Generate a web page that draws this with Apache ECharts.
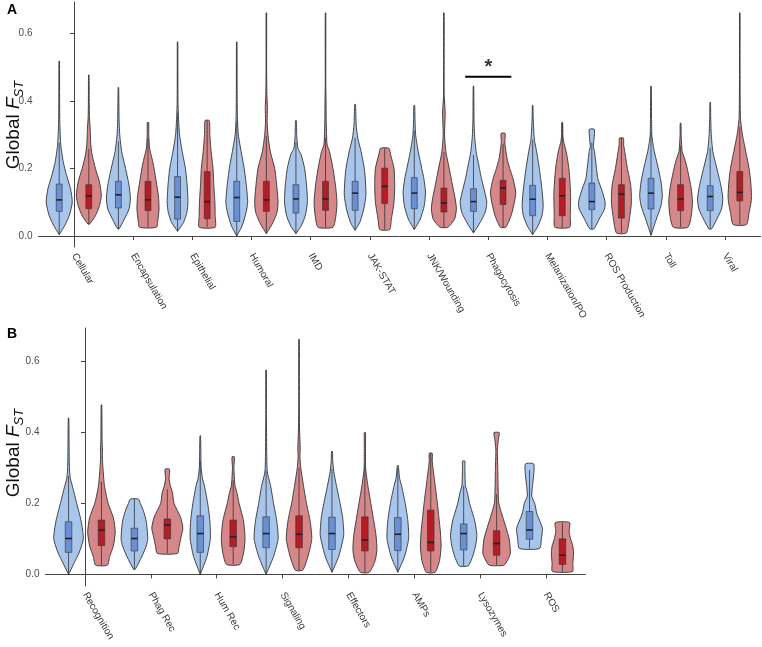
<!DOCTYPE html>
<html><head><meta charset="utf-8">
<script src="https://cdn.jsdelivr.net/npm/echarts@6/dist/echarts.min.js"></script>
<style>html,body{margin:0;padding:0;background:#fff}#c{width:762px;height:647px}</style>
</head><body><div id="c"></div>
<script>
// ---------- Panel A data ----------
const categoriesA = ['Cellular','Encapsulation','Epithelial','Humoral','IMD','JAK-STAT','JNK/Wounding','Phagocytosis','Melanization/PO','ROS Production','Toll','Viral'];
// box stats: [lower whisker, Q1, median, Q3, upper whisker]
const boxA_blue = [
  [0.004,0.073,0.107,0.154,0.276],[0.021,0.083,0.122,0.162,0.280],[0.014,0.050,0.115,0.176,0.365],
  [0.000,0.043,0.114,0.162,0.340],[0.007,0.068,0.110,0.152,0.278],[0.017,0.076,0.127,0.162,0.291],
  [0.019,0.081,0.127,0.173,0.311],[0.009,0.073,0.102,0.140,0.240],[0.004,0.060,0.109,0.150,0.285],
  [0.021,0.078,0.102,0.157,0.276],[0.002,0.080,0.127,0.171,0.307],[0.021,0.075,0.117,0.149,0.260]];
const boxA_red = [
  [0.035,0.081,0.119,0.152,0.258],[0.026,0.075,0.107,0.162,0.290],[0.026,0.051,0.102,0.191,0.342],
  [0.007,0.073,0.107,0.162,0.296],[0.026,0.076,0.110,0.162,0.291],[0.019,0.096,0.147,0.201,0.260],
  [0.026,0.071,0.098,0.142,0.249],[0.026,0.093,0.142,0.165,0.273],[0.026,0.060,0.119,0.171,0.336],
  [0.009,0.053,0.124,0.152,0.290],[0.026,0.075,0.110,0.152,0.268],[0.034,0.104,0.129,0.191,0.322]];
// violin profiles: [value, relative half-width]
const violinA_blue = [
  [[.004,0],[.03,.4],[.06,.75],[.1,.98],[.14,.85],[.18,.55],[.22,.3],[.27,.12],[.33,.05],[.4,.03],[.518,.02]],
  [[.021,.05],[.05,.45],[.08,.8],[.11,.9],[.15,.8],[.2,.54],[.25,.25],[.3,.1],[.35,.05],[.44,.02]],
  [[.014,0],[.04,.45],[.07,.7],[.1,.78],[.15,.72],[.2,.59],[.25,.35],[.3,.15],[.35,.07],[.4,.03],[.575,.02]],
  [[0,0],[.03,.4],[.07,.7],[.1,.82],[.15,.72],[.2,.56],[.25,.33],[.3,.12],[.35,.05],[.42,.03],[.575,.02]],
  [[.007,0],[.03,.4],[.06,.7],[.1,.86],[.15,.8],[.2,.65],[.24,.4],[.26,.15],[.3,.06],[.342,.03]],
  [[.017,0],[.04,.35],[.08,.65],[.12,.81],[.16,.78],[.2,.69],[.25,.45],[.29,.2],[.33,.08],[.39,.03]],
  [[.019,0],[.05,.45],[.09,.75],[.13,.84],[.17,.72],[.2,.56],[.25,.3],[.3,.1],[.35,.05],[.387,.03]],
  [[.009,0],[.04,.5],[.07,.88],[.1,1.0],[.13,.85],[.17,.6],[.2,.45],[.25,.2],[.3,.08],[.35,.04],[.444,.02]],
  [[.004,0],[.03,.4],[.06,.7],[.09,.79],[.13,.72],[.17,.6],[.2,.5],[.25,.3],[.28,.15],[.3,.1],[.35,.04],[.387,.02]],
  [[.021,.15],[.05,.55],[.08,.95],[.1,1.0],[.13,.8],[.17,.45],[.2,.35],[.25,.2],[.265,.12],[.29,.17],[.316,.19]],
  [[.002,0],[.05,.4],[.09,.75],[.12,.85],[.16,.75],[.2,.55],[.25,.25],[.28,.12],[.3,.06],[.35,.04],[.444,.02]],
  [[.021,.1],[.05,.5],[.08,.85],[.11,.95],[.15,.8],[.2,.5],[.25,.2],[.3,.08],[.35,.04],[.396,.02]]];
const violinA_red = [
  [[.035,.05],[.06,.5],[.09,.8],[.12,.94],[.16,.8],[.2,.5],[.24,.25],[.27,.15],[.3,.12],[.32,.1],[.35,.05],[.4,.03],[.477,.02]],
  [[.026,.63],[.05,.75],[.08,.83],[.12,.78],[.16,.62],[.2,.46],[.23,.3],[.26,.12],[.3,.06],[.336,.05]],
  [[.026,.6],[.06,.6],[.1,.58],[.15,.5],[.2,.44],[.25,.3],[.3,.2],[.342,.16]],
  [[.007,0],[.04,.5],[.07,.8],[.1,.88],[.15,.78],[.2,.63],[.25,.3],[.3,.12],[.34,.06],[.38,.08],[.42,.04],[.5,.02],[.661,.02]],
  [[.026,.56],[.06,.78],[.1,.86],[.15,.75],[.2,.56],[.25,.3],[.27,.12],[.3,.08],[.35,.05],[.4,.04],[.45,.02],[.661,.02]],
  [[.019,.37],[.05,.5],[.1,.7],[.15,.75],[.2,.7],[.24,.45],[.26,.31]],
  [[.026,.3],[.05,.8],[.08,.94],[.11,.85],[.15,.65],[.2,.4],[.25,.15],[.3,.05],[.34,.08],[.36,.1],[.38,.08],[.42,.02],[.661,.02]],
  [[.026,.2],[.06,.6],[.1,.85],[.13,.95],[.17,.75],[.2,.5],[.23,.3],[.26,.18],[.28,.13],[.304,.15]],
  [[.026,.56],[.06,.6],[.09,.62],[.12,.63],[.16,.58],[.2,.5],[.25,.3],[.28,.1],[.3,.05],[.336,.03]],
  [[.009,.37],[.05,.6],[.1,.75],[.15,.7],[.2,.45],[.25,.25],[.27,.17],[.29,.15]],
  [[.026,.55],[.06,.8],[.1,.89],[.14,.8],[.2,.5],[.23,.3],[.25,.12],[.3,.04],[.334,.03]],
  [[.034,.5],[.07,.7],[.1,.85],[.12,.88],[.16,.82],[.2,.7],[.25,.45],[.3,.2],[.33,.1],[.35,.05],[.4,.03],[.5,.02],[.661,.02]]];

// ---------- Panel B data ----------
const categoriesB = ['Recognition','Phag Rec','Hum Rec','Signaling','Effectors','AMPs','Lysozymes','ROS'];
const boxB_blue = [
  [0.000,0.062,0.101,0.148,0.277],[0.014,0.066,0.101,0.130,0.212],[0.000,0.062,0.115,0.165,0.319],
  [0.000,0.075,0.115,0.162,0.292],[0.006,0.070,0.115,0.161,0.297],[0.006,0.067,0.113,0.160,0.300],
  [0.024,0.069,0.115,0.142,0.250],[0.073,0.099,0.125,0.177,0.294]];
const boxB_red = [
  [0.026,0.081,0.125,0.153,0.261],[0.059,0.100,0.139,0.156,0.240],[0.028,0.078,0.106,0.153,0.265],
  [0.012,0.075,0.113,0.165,0.300],[0.006,0.066,0.097,0.162,0.306],[0.006,0.066,0.090,0.181,0.341],
  [0.026,0.054,0.087,0.123,0.226],[0.008,0.028,0.054,0.100,0.146]];
const violinB_blue = [
  [[0,0],[.03,.35],[.06,.7],[.1,1.0],[.15,.85],[.2,.55],[.25,.25],[.27,.12],[.3,.06],[.35,.04],[.44,.02]],
  [[.014,.05],[.05,.5],[.08,.8],[.1,.9],[.15,.8],[.18,.6],[.2,.4],[.212,.27]],
  [[0,0],[.05,.45],[.1,.68],[.15,.65],[.2,.5],[.25,.28],[.27,.15],[.3,.06],[.35,.04],[.39,.02]],
  [[0,0],[.05,.5],[.1,.81],[.15,.72],[.2,.5],[.25,.3],[.28,.12],[.3,.06],[.35,.04],[.45,.02],[.575,.02]],
  [[.006,0],[.05,.45],[.11,.79],[.16,.72],[.2,.55],[.25,.3],[.29,.12],[.32,.05],[.346,.03]],
  [[.006,0],[.05,.45],[.1,.73],[.15,.68],[.2,.5],[.25,.25],[.27,.12],[.3,.05],[.306,.04]],
  [[.024,.3],[.05,.6],[.08,.8],[.11,.89],[.15,.75],[.2,.4],[.23,.25],[.25,.12],[.3,.08],[.319,.08]],
  [[.073,.68],[.1,.8],[.13,.87],[.17,.5],[.2,.35],[.22,.15],[.25,.2],[.28,.28],[.311,.28]]];
const violinB_red = [
  [[.026,.4],[.05,.55],[.08,.8],[.12,.93],[.16,.8],[.2,.45],[.25,.2],[.3,.1],[.33,.06],[.35,.07],[.38,.04],[.477,.02]],
  [[.059,.68],[.08,.8],[.11,.95],[.13,1.05],[.16,.9],[.2,.45],[.23,.35],[.25,.2],[.27,.12],[.296,.15]],
  [[.028,.45],[.06,.7],[.1,.8],[.15,.7],[.2,.4],[.23,.25],[.25,.12],[.3,.05],[.331,.08]],
  [[.012,.25],[.05,.6],[.1,.86],[.15,.75],[.2,.5],[.25,.3],[.3,.12],[.33,.06],[.35,.08],[.38,.06],[.42,.03],[.5,.02],[.661,.02]],
  [[.006,.3],[.04,.7],[.07,.81],[.11,.75],[.15,.6],[.2,.4],[.25,.2],[.28,.1],[.3,.05],[.35,.04],[.399,.04]],
  [[.006,.3],[.04,.6],[.08,.7],[.12,.65],[.16,.55],[.2,.45],[.25,.3],[.3,.15],[.32,.1],[.341,.1]],
  [[.026,.5],[.045,.8],[.06,.93],[.1,.85],[.15,.5],[.2,.15],[.25,.1],[.3,.08],[.35,.05],[.38,.12],[.399,.18]],
  [[.008,.68],[.03,.7],[.06,.75],[.08,.7],[.1,.55],[.12,.45],[.146,.48]]];

const yTickValues = [0, 0.2, 0.4, 0.6];
// significance annotation in panel A
const sigCategory = 'Phagocytosis';
const sigBarValue = 0.472;
const sigStarValue = 0.50;
const sigLabel = '*';

// ---------- styling ----------
const FONT = 'Liberation Sans, Arial, Helvetica, sans-serif';
const COLORS = {
  blue: {fill:'#a8c5ec', box:'#6a8fd2'},
  red:  {fill:'#d5878a', box:'#b51c26'}
};
const OUTLINE = '#333333';

function violinSeries(idx, cats, boxBlue, boxRed, profBlue, profRed) {
  const data = [];
  cats.forEach((c, i) => { data.push([i - 0.25, 0, 0, i]); data.push([i + 0.25, 0, 1, i]); });
  return {
    type: 'custom', xAxisIndex: idx, yAxisIndex: idx, clip: false, silent: true,
    encode: {x: 0, y: 1},
    data,
    renderItem(params, api) {
      const x = api.value(0), g = api.value(2), i = api.value(3);
      const prof = (g === 0 ? profBlue : profRed)[i];
      const b = (g === 0 ? boxBlue : boxRed)[i];
      const col = g === 0 ? COLORS.blue : COLORS.red;
      const unit = api.size([1, 0])[0];
      const hw = 0.225 * unit;
      const bw = 0.05 * unit;
      const cx = api.coord([x, 0])[0];
      const left = [], right = [];
      prof.forEach(([v, w]) => {
        const y = api.coord([x, v])[1];
        left.push([cx - w * hw, y]);
        right.push([cx + w * hw, y]);
      });
      const pts = left.concat(right.reverse());
      const yv = v => api.coord([x, v])[1];
      return {
        type: 'group',
        children: [
          {type: 'polygon', shape: {points: pts, smooth: 0.2},
           style: {fill: col.fill, stroke: OUTLINE, lineWidth: 0.9}},
          {type: 'line', shape: {x1: cx, y1: yv(b[0]), x2: cx, y2: yv(b[1])},
           style: {stroke: OUTLINE, lineWidth: 0.8}},
          {type: 'line', shape: {x1: cx, y1: yv(b[3]), x2: cx, y2: yv(b[4])},
           style: {stroke: OUTLINE, lineWidth: 0.8}},
          {type: 'rect', shape: {x: cx - bw, y: yv(b[3]), width: 2 * bw, height: yv(b[1]) - yv(b[3])},
           style: {fill: col.box, stroke: OUTLINE, lineWidth: 0.6}},
          {type: 'line', shape: {x1: cx - bw, y1: yv(b[2]), x2: cx + bw, y2: yv(b[2])},
           style: {stroke: '#222', lineWidth: 1.6}}
        ]
      };
    }
  };
}

function xAxisCfg(idx, cats) {
  const ticks = cats.map((c, i) => i);
  return {
    type: 'value', gridIndex: idx, min: -0.6, max: cats.length - 0.4,
    splitLine: {show: false},
    axisLine: {show: true, lineStyle: {color: '#444', width: 1}},
    axisTick: {show: true, customValues: ticks, length: 4, lineStyle: {color: '#444'}},
    axisLabel: {show: true, customValues: ticks, rotate: -60, margin: 7,
      formatter: v => cats[Math.round(v)], color: '#3a3a3a', fontSize: 10, fontFamily: FONT}
  };
}
function yAxisCfg(idx) {
  return {
    type: 'value', gridIndex: idx, min: -0.0326, max: 0.6933,
    splitLine: {show: false},
    axisLine: {show: true, lineStyle: {color: '#444', width: 1}},
    axisTick: {show: true, customValues: yTickValues, length: 4, lineStyle: {color: '#444'}},
    axisLabel: {show: true, customValues: yTickValues, formatter: v => v.toFixed(1),
      color: '#4d4d4d', fontSize: 10, fontFamily: FONT, margin: 6}
  };
}

const sigIdx = categoriesA.indexOf(sigCategory);

const titleRich = {
  n: {fontSize: 19, fontFamily: FONT, fill: '#111', lineHeight: 24, verticalAlign: 'middle'},
  i: {fontSize: 19, fontFamily: FONT, fill: '#111', fontStyle: 'italic', lineHeight: 24, verticalAlign: 'middle'},
  s: {fontSize: 13, fontFamily: FONT, fill: '#111', fontStyle: 'italic', lineHeight: 13, verticalAlign: 'bottom'}
};

const chart = echarts.init(document.getElementById('c'), null, {renderer: 'canvas'});
chart.setOption({
  animation: false,
  backgroundColor: '#fff',
  grid: [
    {left: 38.5, top: 2, width: 722, height: 245},
    {left: 45.5, top: 328, width: 540, height: 258}
  ],
  xAxis: [xAxisCfg(0, categoriesA), xAxisCfg(1, categoriesB)],
  yAxis: [yAxisCfg(0), yAxisCfg(1)],
  graphic: [
    {type: 'text', x: 7, y: 3, style: {text: 'A', font: 'bold 14px ' + FONT, fill: '#000'}},
    {type: 'text', x: 7, y: 327, style: {text: 'B', font: 'bold 14px ' + FONT, fill: '#000'}},
    {type: 'text', x: 14, y: 125, rotation: Math.PI / 2,
     style: {text: '{n|Global }{i|F}{s|ST}', rich: titleRich, align: 'center', verticalAlign: 'middle'}},
    {type: 'text', x: 14, y: 453, rotation: Math.PI / 2,
     style: {text: '{n|Global }{i|F}{s|ST}', rich: titleRich, align: 'center', verticalAlign: 'middle'}}
  ],
  series: [
    violinSeries(0, categoriesA, boxA_blue, boxA_red, violinA_blue, violinA_red),
    violinSeries(1, categoriesB, boxB_blue, boxB_red, violinB_blue, violinB_red),
    {type: 'line', xAxisIndex: 0, yAxisIndex: 0, silent: true, symbol: 'none',
     data: [[sigIdx - 0.39, sigBarValue], [sigIdx + 0.39, sigBarValue]],
     lineStyle: {color: '#000', width: 2}},
    {type: 'scatter', xAxisIndex: 0, yAxisIndex: 0, silent: true, symbolSize: 0,
     data: [[sigIdx, sigStarValue]],
     label: {show: true, position: 'inside', formatter: sigLabel, fontSize: 20, fontWeight: 'bold', color: '#000', fontFamily: FONT}}
  ]
});
</script></body></html>
